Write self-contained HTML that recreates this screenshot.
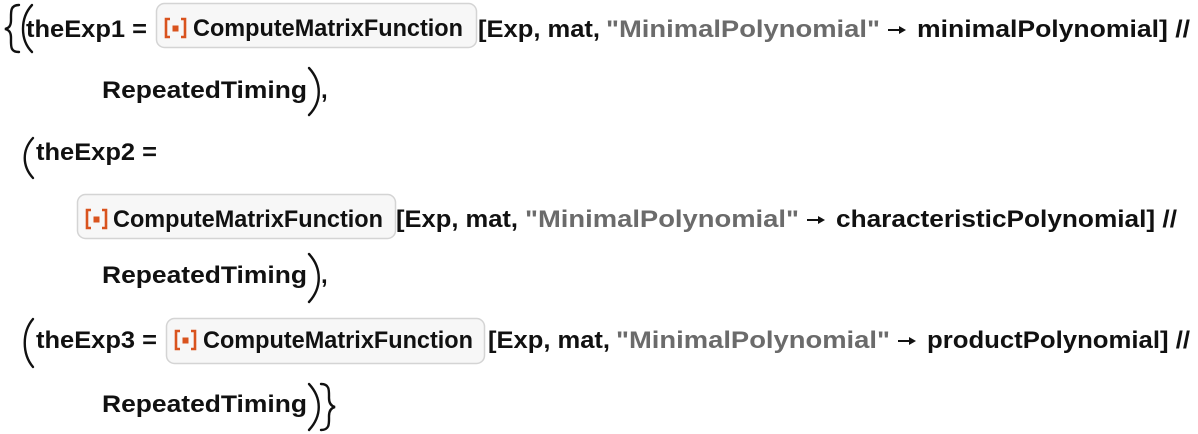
<!DOCTYPE html>
<html><head><meta charset="utf-8"><style>
html,body{margin:0;padding:0;background:#fff;}
svg{display:block;}
text{font-family:"Liberation Sans",sans-serif;font-weight:bold;font-size:24px;fill:#111;}
.g{fill:#6b6b6b;}
</style></head><body>
<svg width="1198" height="434" viewBox="0 0 1198 434" xmlns="http://www.w3.org/2000/svg">
<defs>
<g id="icon">
<path d="M6 -17 H2 V1 H6" fill="none" stroke="#d9531e" stroke-width="2.6"/>
<rect x="8.5" y="-10.5" width="6" height="6" fill="#d9531e"/>
<path d="M17 -17 H21 V1 H17" fill="none" stroke="#d9531e" stroke-width="2.6"/>
</g>
<g id="arr">
<path d="M0 0 H14" stroke="#111" stroke-width="2"/>
<path d="M11 -4 L18 0 L11 4 Z" fill="#111"/>
</g>
</defs>
<g fill="none" stroke="#111" stroke-width="2.4" stroke-linecap="round">
<path d="M19 5 C10 5 11 12 11 20 C11 26 9 28 5 29 C9 30 11 32 11 38 C11 46 10 52 19 52"/>
<path d="M32 5 C20 18 20 40 32 52"/>
<path d="M309 68 C322 82 322 102 309 115"/>
<path d="M33 138 C22 150 22 166 33 178"/>
<path d="M309 254 C322 268 322 288 309 302"/>
<path d="M33 319 C22 332 22 354 33 367"/>
<path d="M309 384 C322 398 322 416 309 430"/>
<path d="M321 384 C330 384 329 391 329 398 C329 403 331 406 335 407 C331 408 329 411 329 416 C329 423 330 430 321 430"/>
</g>
<rect x="156.5" y="3.5" width="320" height="44" rx="8" fill="#f7f7f7" stroke="#d4d4d4" stroke-width="1.5"/>
<rect x="77.5" y="194.5" width="318" height="44" rx="8" fill="#f7f7f7" stroke="#d4d4d4" stroke-width="1.5"/>
<rect x="166.5" y="318.5" width="318" height="45" rx="8" fill="#f7f7f7" stroke="#d4d4d4" stroke-width="1.5"/>
<use href="#icon" x="164" y="36"/>
<use href="#icon" x="85" y="227"/>
<use href="#icon" x="174" y="348"/>
<text x="26" y="37" textLength="121" lengthAdjust="spacingAndGlyphs">theExp1 =</text>
<text x="193" y="36" textLength="270" lengthAdjust="spacingAndGlyphs">ComputeMatrixFunction</text>
<text x="478" y="37" textLength="122" lengthAdjust="spacingAndGlyphs">[Exp, mat,</text>
<text class="g" x="606" y="37" textLength="274" lengthAdjust="spacingAndGlyphs">"MinimalPolynomial"</text>
<use href="#arr" x="888" y="30"/>
<text x="917" y="37" textLength="273" lengthAdjust="spacingAndGlyphs">minimalPolynomial] //</text>
<text x="102" y="98" textLength="205" lengthAdjust="spacingAndGlyphs">RepeatedTiming</text>
<text x="321" y="98">,</text>
<text x="36" y="160" textLength="121" lengthAdjust="spacingAndGlyphs">theExp2 =</text>
<text x="113" y="227" textLength="270" lengthAdjust="spacingAndGlyphs">ComputeMatrixFunction</text>
<text x="396" y="227" textLength="122" lengthAdjust="spacingAndGlyphs">[Exp, mat,</text>
<text class="g" x="525" y="227" textLength="274" lengthAdjust="spacingAndGlyphs">"MinimalPolynomial"</text>
<use href="#arr" x="807" y="220"/>
<text x="836" y="227" textLength="341" lengthAdjust="spacingAndGlyphs">characteristicPolynomial] //</text>
<text x="102" y="283" textLength="205" lengthAdjust="spacingAndGlyphs">RepeatedTiming</text>
<text x="321" y="283">,</text>
<text x="36" y="348" textLength="121" lengthAdjust="spacingAndGlyphs">theExp3 =</text>
<text x="203" y="348" textLength="270" lengthAdjust="spacingAndGlyphs">ComputeMatrixFunction</text>
<text x="488" y="348" textLength="122" lengthAdjust="spacingAndGlyphs">[Exp, mat,</text>
<text class="g" x="616" y="348" textLength="274" lengthAdjust="spacingAndGlyphs">"MinimalPolynomial"</text>
<use href="#arr" x="898" y="341"/>
<text x="927" y="348" textLength="263" lengthAdjust="spacingAndGlyphs">productPolynomial] //</text>
<text x="102" y="412" textLength="205" lengthAdjust="spacingAndGlyphs">RepeatedTiming</text>
</svg>
</body></html>
